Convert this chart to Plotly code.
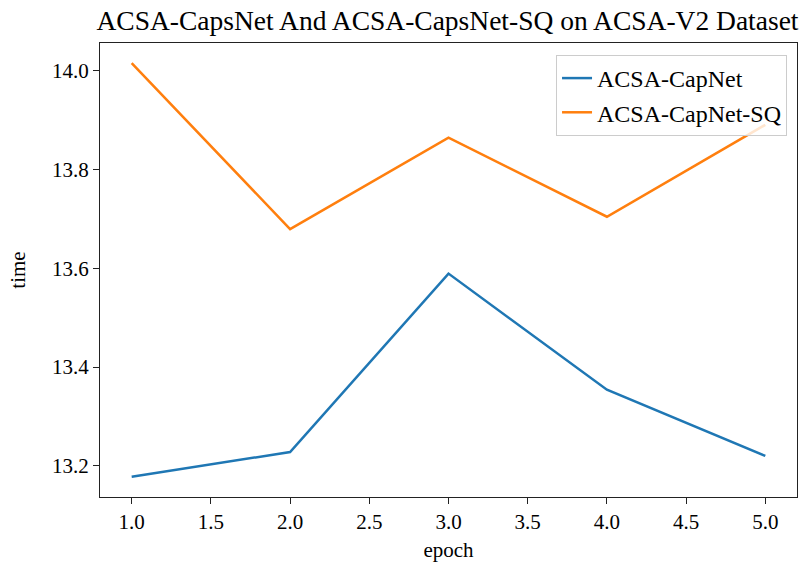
import plotly.graph_objects as go

epochs = [1, 2, 3, 4, 5]
capnet = [13.178, 13.228, 13.589, 13.354, 13.220]
capnet_sq = [14.015, 13.679, 13.864, 13.704, 13.890]
names = ["ACSA-CapNet", "ACSA-CapNet-SQ"]
x_ticks = [1.0, 1.5, 2.0, 2.5, 3.0, 3.5, 4.0, 4.5, 5.0]
y_ticks = [13.2, 13.4, 13.6, 13.8, 14.0]

FONT = "Liberation Serif, Times New Roman, serif"

fig = go.Figure()
fig.add_trace(go.Scatter(x=epochs, y=capnet, mode="lines", name=names[0],
                         line=dict(color="#1f77b4", width=2.5)))
fig.add_trace(go.Scatter(x=epochs, y=capnet_sq, mode="lines", name=names[1],
                         line=dict(color="#ff7f0e", width=2.5)))

axis_common = dict(showgrid=False, zeroline=False, showline=True, mirror=True,
                   linecolor="#222", linewidth=1.3, ticks="outside", ticklen=6,
                   tickcolor="#222", automargin=False,
                   tickfont=dict(family=FONT, size=21, color="black"))

fig.update_layout(
    width=804, height=562,
    paper_bgcolor="white", plot_bgcolor="white",
    margin=dict(l=100, r=7, t=43, b=65),
    title=dict(text="ACSA-CapsNet And ACSA-CapsNet-SQ on ACSA-V2 Dataset",
               x=447.5 / 804, xanchor="center", y=1 - 20 / 562, yanchor="middle",
               font=dict(family=FONT, size=27.5, color="black")),
    xaxis=dict(range=[0.8, 5.2], tickvals=x_ticks, ticktext=[f"{v:.1f}" for v in x_ticks],
               title=dict(text="epoch", font=dict(family=FONT, size=21, color="black"), standoff=8),
               **axis_common),
    yaxis=dict(range=[13.137, 14.0555], tickvals=y_ticks, ticktext=[f"{v:.1f}" for v in y_ticks],
               title=dict(text="time", font=dict(family=FONT, size=21, color="black"), standoff=20),
               **axis_common),
    legend=dict(x=0.9857, y=0.9736, xanchor="right", yanchor="top",
                bgcolor="rgba(255,255,255,0.8)", bordercolor="#cccccc", borderwidth=1,
                font=dict(family=FONT, size=24, color="black"), tracegroupgap=0,
                itemwidth=30),
    showlegend=True,
)

fig.write_html("out.html", config={"displayModeBar": False},
               post_script="document.body.style.margin='0';document.body.style.padding='0';")
